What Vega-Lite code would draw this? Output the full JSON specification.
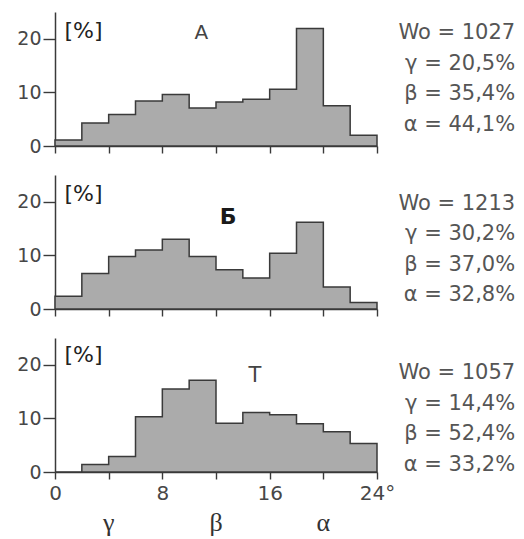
{
  "$schema": "https://vega.github.io/schema/vega-lite/v6.json",
  "background": "white",
  "padding": {"left": 16, "top": 12, "right": 0, "bottom": 0},
  "spacing": 29,
  "bounds": "flush",
  "config": {
    "font": "DejaVu Sans",
    "view": {"stroke": null},
    "axis": {
      "grid": false,
      "domainColor": "#3a3a3a",
      "domainWidth": 1.5,
      "tickColor": "#3a3a3a",
      "tickWidth": 1.4,
      "labelColor": "#474747",
      "labelFont": "DejaVu Sans",
      "labelFontSize": 19
    }
  },
  "datasets": {
    "bins": [
      {"panel": "A", "x0": 0, "x1": 2, "pct": 1.1},
      {"panel": "A", "x0": 2, "x1": 4, "pct": 4.3},
      {"panel": "A", "x0": 4, "x1": 6, "pct": 5.9},
      {"panel": "A", "x0": 6, "x1": 8, "pct": 8.4},
      {"panel": "A", "x0": 8, "x1": 10, "pct": 9.6},
      {"panel": "A", "x0": 10, "x1": 12, "pct": 7.1},
      {"panel": "A", "x0": 12, "x1": 14, "pct": 8.2},
      {"panel": "A", "x0": 14, "x1": 16, "pct": 8.7},
      {"panel": "A", "x0": 16, "x1": 18, "pct": 10.6},
      {"panel": "A", "x0": 18, "x1": 20, "pct": 21.9},
      {"panel": "A", "x0": 20, "x1": 22, "pct": 7.5},
      {"panel": "A", "x0": 22, "x1": 24, "pct": 2.0},
      {"panel": "B", "x0": 0, "x1": 2, "pct": 2.4},
      {"panel": "B", "x0": 2, "x1": 4, "pct": 6.6},
      {"panel": "B", "x0": 4, "x1": 6, "pct": 9.8},
      {"panel": "B", "x0": 6, "x1": 8, "pct": 11.0},
      {"panel": "B", "x0": 8, "x1": 10, "pct": 13.0},
      {"panel": "B", "x0": 10, "x1": 12, "pct": 9.8},
      {"panel": "B", "x0": 12, "x1": 14, "pct": 7.3},
      {"panel": "B", "x0": 14, "x1": 16, "pct": 5.8},
      {"panel": "B", "x0": 16, "x1": 18, "pct": 10.4},
      {"panel": "B", "x0": 18, "x1": 20, "pct": 16.2},
      {"panel": "B", "x0": 20, "x1": 22, "pct": 4.1},
      {"panel": "B", "x0": 22, "x1": 24, "pct": 1.2},
      {"panel": "T", "x0": 0, "x1": 2, "pct": 0},
      {"panel": "T", "x0": 2, "x1": 4, "pct": 1.4},
      {"panel": "T", "x0": 4, "x1": 6, "pct": 2.9},
      {"panel": "T", "x0": 6, "x1": 8, "pct": 10.3},
      {"panel": "T", "x0": 8, "x1": 10, "pct": 15.5},
      {"panel": "T", "x0": 10, "x1": 12, "pct": 17.1},
      {"panel": "T", "x0": 12, "x1": 14, "pct": 9.1},
      {"panel": "T", "x0": 14, "x1": 16, "pct": 11.1},
      {"panel": "T", "x0": 16, "x1": 18, "pct": 10.7},
      {"panel": "T", "x0": 18, "x1": 20, "pct": 9.0},
      {"panel": "T", "x0": 20, "x1": 22, "pct": 7.5},
      {"panel": "T", "x0": 22, "x1": 24, "pct": 5.3}
    ],
    "stats": [
      {"panel": "A", "name": "A", "text": "Wo = 1027\nγ = 20,5%\nβ = 35,4%\nα = 44,1%"},
      {"panel": "B", "name": "Б", "text": "Wo = 1213\nγ = 30,2%\nβ = 37,0%\nα = 32,8%"},
      {"panel": "T", "name": "T", "text": "Wo = 1057\nγ = 14,4%\nβ = 52,4%\nα = 33,2%"}
    ],
    "greek": [
      {"sym": "γ", "deg": 4},
      {"sym": "β", "deg": 12},
      {"sym": "α", "deg": 20}
    ]
  },
  "vconcat": [
    {
      "width": 322,
      "height": 134,
      "layer": [
        {
          "data": {"name": "bins"},
          "transform": [{"filter": "datum.panel === 'A'"}, {"fold": ["x0", "x1"], "as": ["edge", "deg"]}],
          "mark": {"type": "area", "fill": "#ababab", "fillOpacity": 1, "stroke": "#3a3a3a", "strokeWidth": 1.5, "interpolate": "linear", "orient": "vertical"},
          "encoding": {
            "x": {"field": "deg", "type": "quantitative", "scale": {"domain": [0, 24], "nice": false, "zero": false},
                  "axis": {"values": [0, 2, 4, 6, 8, 10, 12, 14, 16, 18, 20, 22, 24], "labels": false, "tickSize": 7, "title": null}},
            "y": {"field": "pct", "type": "quantitative", "stack": null, "scale": {"domain": [0, 25], "nice": false},
                  "axis": {"values": [0, 5, 10, 15, 20, 25], "labelExpr": "datum.value % 10 === 0 ? datum.label : ''",
                           "tickSize": {"condition": {"test": "datum.value % 10 === 0", "value": 12}, "value": 5},
                           "labelPadding": 2, "title": "[%]", "titleAngle": 0, "titleAlign": "left", "titleBaseline": "middle",
                           "titleX": 9, "titleY": 18, "titleFontSize": 22, "titleFontWeight": "normal", "titleColor": "#222", "titleFont": "DejaVu Sans"}},
            "order": [{"field": "deg", "sort": "ascending"}, {"field": "edge", "sort": "descending"}]
          }
        },
        {
          "data": {"name": "stats"},
          "transform": [{"filter": "datum.panel === 'A'"}],
          "mark": {"type": "text", "align": "right", "baseline": "alphabetic", "lineBreak": "\n", "lineHeight": 30.5, "fontSize": 21, "color": "#555555"},
          "encoding": {"x": {"datum": 34.3}, "y": {"datum": 19.9}, "text": {"field": "text"}}
        },
        {
          "data": {"name": "stats"},
          "transform": [{"filter": "datum.panel === 'A'"}],
          "mark": {"type": "text", "align": "center", "baseline": "middle", "fontSize": 20, "color": "#444444"},
          "encoding": {"x": {"datum": 10.9}, "y": {"datum": 21.0}, "text": {"field": "name"}}
        }
      ]
    },
    {
      "width": 322,
      "height": 134,
      "layer": [
        {
          "data": {"name": "bins"},
          "transform": [{"filter": "datum.panel === 'B'"}, {"fold": ["x0", "x1"], "as": ["edge", "deg"]}],
          "mark": {"type": "area", "fill": "#ababab", "fillOpacity": 1, "stroke": "#3a3a3a", "strokeWidth": 1.5, "interpolate": "linear", "orient": "vertical"},
          "encoding": {
            "x": {"field": "deg", "type": "quantitative", "scale": {"domain": [0, 24], "nice": false, "zero": false},
                  "axis": {"values": [0, 2, 4, 6, 8, 10, 12, 14, 16, 18, 20, 22, 24], "labels": false, "tickSize": 7, "title": null}},
            "y": {"field": "pct", "type": "quantitative", "stack": null, "scale": {"domain": [0, 25], "nice": false},
                  "axis": {"values": [0, 5, 10, 15, 20, 25], "labelExpr": "datum.value % 10 === 0 ? datum.label : ''",
                           "tickSize": {"condition": {"test": "datum.value % 10 === 0", "value": 12}, "value": 5},
                           "labelPadding": 2, "title": "[%]", "titleAngle": 0, "titleAlign": "left", "titleBaseline": "middle",
                           "titleX": 9, "titleY": 18, "titleFontSize": 22, "titleFontWeight": "normal", "titleColor": "#222", "titleFont": "DejaVu Sans"}},
            "order": [{"field": "deg", "sort": "ascending"}, {"field": "edge", "sort": "descending"}]
          }
        },
        {
          "data": {"name": "stats"},
          "transform": [{"filter": "datum.panel === 'B'"}],
          "mark": {"type": "text", "align": "right", "baseline": "alphabetic", "lineBreak": "\n", "lineHeight": 30.5, "fontSize": 21, "color": "#555555"},
          "encoding": {"x": {"datum": 34.3}, "y": {"datum": 18.5}, "text": {"field": "text"}}
        },
        {
          "data": {"name": "stats"},
          "transform": [{"filter": "datum.panel === 'B'"}],
          "mark": {"type": "text", "align": "center", "baseline": "middle", "fontSize": 22, "fontWeight": "bold", "color": "#1a1a1a"},
          "encoding": {"x": {"datum": 12.9}, "y": {"datum": 17.1}, "text": {"field": "name"}}
        }
      ]
    },
    {
      "width": 322,
      "height": 134,
      "layer": [
        {
          "data": {"name": "bins"},
          "transform": [{"filter": "datum.panel === 'T'"}, {"fold": ["x0", "x1"], "as": ["edge", "deg"]}],
          "mark": {"type": "area", "fill": "#ababab", "fillOpacity": 1, "stroke": "#3a3a3a", "strokeWidth": 1.5, "interpolate": "linear", "orient": "vertical"},
          "encoding": {
            "x": {"field": "deg", "type": "quantitative", "scale": {"domain": [0, 24], "nice": false, "zero": false},
                  "axis": {"values": [0, 2, 4, 6, 8, 10, 12, 14, 16, 18, 20, 22, 24], "tickSize": 7, "title": null,
                           "labelExpr": "datum.value === 24 ? '24°' : (datum.value % 8 === 0 ? datum.label : '')",
                           "labelFlush": false, "labelOverlap": false, "labelFontSize": 20, "labelPadding": 4}},
            "y": {"field": "pct", "type": "quantitative", "stack": null, "scale": {"domain": [0, 25], "nice": false},
                  "axis": {"values": [0, 5, 10, 15, 20, 25], "labelExpr": "datum.value % 10 === 0 ? datum.label : ''",
                           "tickSize": {"condition": {"test": "datum.value % 10 === 0", "value": 12}, "value": 5},
                           "labelPadding": 2, "title": "[%]", "titleAngle": 0, "titleAlign": "left", "titleBaseline": "middle",
                           "titleX": 9, "titleY": 16, "titleFontSize": 22, "titleFontWeight": "normal", "titleColor": "#222", "titleFont": "DejaVu Sans"}},
            "order": [{"field": "deg", "sort": "ascending"}, {"field": "edge", "sort": "descending"}]
          }
        },
        {
          "data": {"name": "stats"},
          "transform": [{"filter": "datum.panel === 'T'"}],
          "mark": {"type": "text", "align": "right", "baseline": "alphabetic", "lineBreak": "\n", "lineHeight": 30.5, "fontSize": 21, "color": "#555555"},
          "encoding": {"x": {"datum": 34.3}, "y": {"datum": 17.3}, "text": {"field": "text"}}
        },
        {
          "data": {"name": "stats"},
          "transform": [{"filter": "datum.panel === 'T'"}],
          "mark": {"type": "text", "align": "center", "baseline": "middle", "fontSize": 21, "color": "#444444"},
          "encoding": {"x": {"datum": 14.9}, "y": {"datum": 17.9}, "text": {"field": "name"}}
        },
        {
          "data": {"name": "greek"},
          "mark": {"type": "text", "align": "center", "baseline": "alphabetic", "font": "Liberation Serif", "fontSize": 26, "color": "#333333"},
          "encoding": {"x": {"field": "deg", "type": "quantitative"}, "y": {"datum": -11.1}, "text": {"field": "sym"}}
        }
      ]
    }
  ]
}
